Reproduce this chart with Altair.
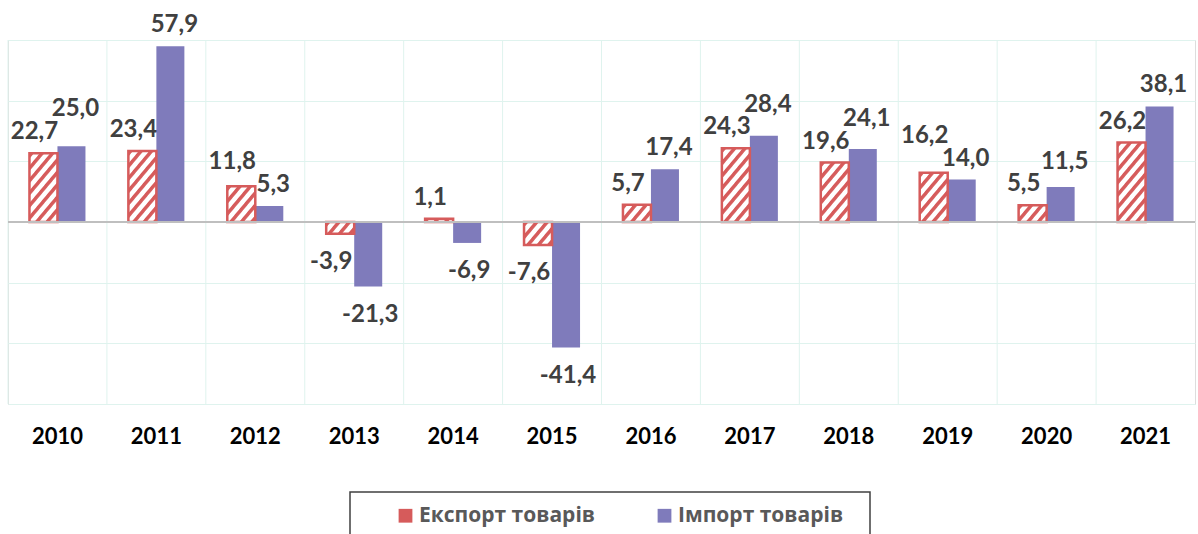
import urllib.parse
import altair as alt
import pandas as pd

years = ["2010", "2011", "2012", "2013", "2014", "2015", "2016", "2017", "2018", "2019", "2020", "2021"]
export_vals = [22.7, 23.4, 11.8, -3.9, 1.1, -7.6, 5.7, 24.3, 19.6, 16.2, 5.5, 26.2]
import_vals = [25.0, 57.9, 5.3, -21.3, -6.9, -41.4, 17.4, 28.4, 24.1, 14.0, 11.5, 38.1]
series = ["Експорт товарів", "Імпорт товарів"]

RED = "#d65b5b"
PURPLE = "#7f7bbb"
GRID = "#dff3ee"
LABEL = "#404040"

rows = []
for y, e, i in zip(years, export_vals, import_vals):
    rows.append({"year": y, "series": series[0], "value": e})
    rows.append({"year": y, "series": series[1], "value": i})
df = pd.DataFrame(rows)
df_years = pd.DataFrame({"year": years})

svg = ("<svg xmlns='http://www.w3.org/2000/svg'><defs>"
       "<pattern id='h' width='8' height='8' patternUnits='userSpaceOnUse' patternTransform='rotate(40)'>"
       "<rect width='8' height='8' fill='#ffffff'/><rect width='3.5' height='8' fill='" + RED + "'/>"
       "</pattern></defs><rect width='100%' height='100%' fill='url(#h)'/></svg>")
hatch_uri = "data:image/svg+xml;charset=utf-8," + urllib.parse.quote(svg)

xscale = alt.Scale(domain=years, paddingInner=0, paddingOuter=0)
xaxis = alt.Axis(title=None, domain=False, ticks=False, grid=False, labelAngle=0,
                 labelFont="Lato", labelFontWeight="bold", labelFontSize=22,
                 labelColor="#000000", labelPadding=22)
X = alt.X("year:N", scale=xscale, axis=xaxis)
XO = alt.XOffset("series:N", scale=alt.Scale(domain=series, paddingInner=0, paddingOuter=0.766))
yscale = alt.Scale(domain=[-60, 60], nice=False)
yaxis = alt.Axis(title=None, labels=False, ticks=False, domain=False, grid=True,
                 gridColor=GRID, gridWidth=1, values=[-60, -40, -20, 0, 20, 40, 60])
Y = alt.Y("value:Q", scale=yscale, axis=yaxis)
Y2 = alt.datum(0)

grid_v = alt.Chart(df_years).mark_rule(color=GRID, strokeWidth=1).encode(
    x=alt.X("year:N", scale=xscale, axis=xaxis, bandPosition=0)
)

bars = alt.Chart(df).mark_bar().encode(
    x=X, xOffset=XO, y=Y, y2=Y2,
    color=alt.Color("series:N", scale=alt.Scale(domain=series, range=[RED, PURPLE]),
                    legend=alt.Legend(title=None, orient="none", legendX=387, legendY=465,
                                      padding=0, direction="horizontal", symbolType="square",
                                      symbolSize=190, symbolStrokeWidth=0,
                                      labelFont="Open Sans", labelFontWeight="bold",
                                      labelFontSize=21, labelColor="#595959",
                                      columnPadding=58, labelOffset=3, labelLimit=300))
)

hatch = alt.Chart(df).transform_filter(
    alt.datum.series == series[0]
).mark_image(aspect=False).encode(
    x=X, xOffset=XO, y=Y, y2=Y2, url=alt.value(hatch_uri)
)

border = alt.Chart(df).transform_filter(
    alt.datum.series == series[0]
).mark_bar(fillOpacity=0, stroke=RED, strokeWidth=2.5).encode(
    x=X, xOffset=XO, y=Y, y2=Y2
)

zero = alt.Chart(df_years).mark_rule(color="#bfbfbf", strokeWidth=1.3).encode(y=alt.datum(0))

lab_expr = "(datum.value < 0 ? '-' : '') + replace(format(abs(datum.value), '.1f'), '.', ',')"
# the label of the taller bar in a year is lifted clear of its neighbour's label
anchor_expr = ("datum.value >= 0 ? "
               "((datum.value == datum.vmax && datum.other >= 0) ? max(datum.value, datum.other + 7.5) : datum.value) : "
               "((datum.value == datum.vmin && datum.other < 0) ? min(datum.value, datum.other - 7.5) : datum.value)")


def labels(name, positive, dx, dy):
    cond = (alt.datum.value >= 0) if positive else (alt.datum.value < 0)
    return alt.Chart(df).transform_joinaggregate(
        vmax="max(value)", vmin="min(value)", vsum="sum(value)", groupby=["year"]
    ).transform_calculate(
        other="datum.vsum - datum.value"
    ).transform_calculate(
        lab=lab_expr, anchor=anchor_expr
    ).transform_filter(alt.datum.series == name).transform_filter(cond).mark_text(
        font="Lato", fontWeight="bold", fontSize=24, color=LABEL,
        dx=dx, dy=dy, baseline="middle", align="center"
    ).encode(
        x=X, xOffset=XO, y=alt.Y("anchor:Q", scale=yscale, axis=yaxis), text="lab:N"
    )


texts = [
    labels(series[0], True, -9, -21),
    labels(series[0], False, -9, 28),
    labels(series[1], True, 4, -21),
    labels(series[1], False, 2, 28),
]

legend_box = alt.Chart(pd.DataFrame({"a": [0]})).mark_rect(
    fillOpacity=0, stroke="#404040", strokeWidth=1.5
).encode(x=alt.value(342), x2=alt.value(862), y=alt.value(452), y2=alt.value(515))

chart = alt.layer(grid_v, bars, hatch, border, zero, *texts, legend_box).properties(
    width=1187, height=364,
    padding={"left": 8, "top": 40, "right": 3, "bottom": 130},
    autosize=alt.AutoSizeParams(type="none"),
).configure_view(stroke=GRID, strokeWidth=1).configure(background="#ffffff")

chart.save("out.html", embed_options={"renderer": "svg", "actions": False})
